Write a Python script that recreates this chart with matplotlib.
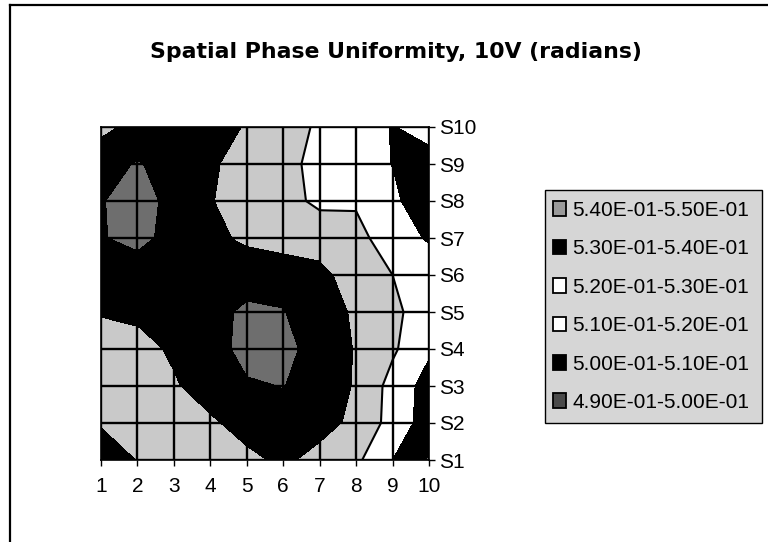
import matplotlib
matplotlib.use("Agg")
import numpy as np
import matplotlib.pyplot as plt
from matplotlib.lines import Line2D
from matplotlib.patches import Patch, Rectangle

plt.rcParams["font.family"] = ["Liberation Sans", "DejaVu Sans"]

x_labels = ["1", "2", "3", "4", "5", "6", "7", "8", "9", "10"]
y_labels = ["S1", "S2", "S3", "S4", "S5", "S6", "S7", "S8", "S9", "S10"]

# rows S1 .. S10
s1 = [0.5040, 0.5100, 0.5120, 0.5125, 0.5125, 0.5075, 0.5135, 0.5180, 0.5300, 0.5405]
s2 = [0.5105, 0.5125, 0.5125, 0.5115, 0.5050, 0.5020, 0.5055, 0.5125, 0.5235, 0.5350]
s3 = [0.5135, 0.5125, 0.5110, 0.5040, 0.5010, 0.4998, 0.5030, 0.5108, 0.5235, 0.5340]
s4 = [0.5125, 0.5135, 0.5081, 0.5040, 0.4970, 0.4975, 0.5035, 0.5105, 0.5185, 0.5285]
s5 = [0.5095, 0.5075, 0.5030, 0.5030, 0.4983, 0.4997, 0.5040, 0.5115, 0.5185, 0.5235]
s6 = [0.5050, 0.5065, 0.5030, 0.5030, 0.5040, 0.5025, 0.5057, 0.5165, 0.5200, 0.5245]
s7 = [0.5008, 0.4965, 0.5040, 0.5075, 0.5115, 0.5150, 0.5164, 0.5168, 0.5255, 0.5310]
s8 = [0.5005, 0.4965, 0.5025, 0.5095, 0.5130, 0.5180, 0.5212, 0.5212, 0.5280, 0.5365]
s9 = [0.5040, 0.4992, 0.5040, 0.5085, 0.5135, 0.5170, 0.5230, 0.5260, 0.5302, 0.5340]
s10 = [0.5120, 0.5070, 0.5030, 0.5060, 0.5105, 0.5170, 0.5210, 0.5250, 0.5305, 0.5260]

levels = [0.49, 0.50, 0.51, 0.52, 0.53, 0.54, 0.55]
band_colors = ["#6e6e6e", "black", "#c9c9c9", "white", "black", "#9a9a9a"]

legend_labels = [
    "5.40E-01-5.50E-01",
    "5.30E-01-5.40E-01",
    "5.20E-01-5.30E-01",
    "5.10E-01-5.20E-01",
    "5.00E-01-5.10E-01",
    "4.90E-01-5.00E-01",
]
legend_colors = ["#9a9a9a", "black", "white", "white", "black", "#4a4a4a"]

W, H = 768, 542
fig = plt.figure(figsize=(W / 100, H / 100), dpi=100)

# chart border, only left and top survive in the scan
fig.add_artist(Line2D([10 / W, 10 / W], [0, 1 - 5 / H], color="black", linewidth=1.6))
fig.add_artist(Line2D([10 / W, 1], [1 - 5 / H, 1 - 5 / H], color="black", linewidth=1.6))

ax = fig.add_axes([101 / W, 1 - 460 / H, 328 / W, 333 / H])
Z = np.array([s1, s2, s3, s4, s5, s6, s7, s8, s9, s10])
gx = np.arange(1, 11)
gy = np.arange(1, 11)
ax.contourf(gx, gy, Z, levels=levels, colors=band_colors)
ax.contour(gx, gy, Z, levels=[0.52], colors="black", linewidths=1.5)

ax.set_xlim(1, 10)
ax.set_ylim(1, 10)
ax.set_xticks(gx)
ax.set_xticklabels(x_labels, fontsize=15)
ax.set_yticks(gy)
ax.set_yticklabels(y_labels, fontsize=15)
ax.yaxis.tick_right()
ax.tick_params(axis="x", length=4, width=1, pad=8.5)
ax.tick_params(axis="y", length=4.5, width=1, pad=3)
ax.grid(True, color="black", linewidth=1.7)
ax.set_axisbelow(False)
for sp in ax.spines.values():
    sp.set_linewidth(1.2)

fig.text(150 / W, 1 - 58 / H, "Spatial Phase Uniformity, 10V (radians)",
         ha="left", va="baseline", fontsize=15.8, fontweight="bold",
         family="DejaVu Sans")

# legend box drawn apart so its padding can differ per side
fig.add_artist(Rectangle((545 / W, 1 - 423 / H), 217 / W, 233 / H, facecolor="#d6d6d6",
                         edgecolor="black", linewidth=1.0, transform=fig.transFigure))
handles = [Patch(facecolor=c, edgecolor="black", linewidth=1.3) for c in legend_colors]
leg = fig.legend(handles, legend_labels, loc="upper left",
                 bbox_to_anchor=(553 / W, 1 - 201 / H), borderaxespad=0,
                 fontsize=15, frameon=False, handlelength=0.62,
                 handleheight=0.7, handletextpad=0.3, labelspacing=0.93,
                 borderpad=0)

fig.savefig("out.png", dpi=100)
